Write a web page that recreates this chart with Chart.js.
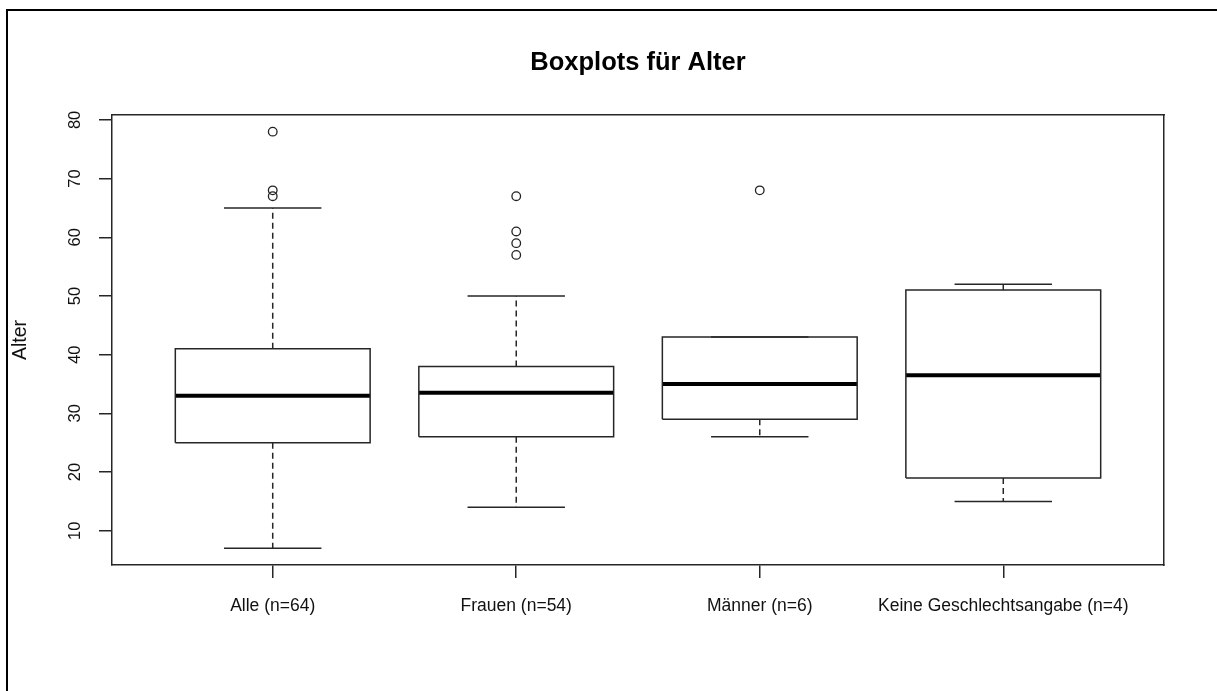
<!DOCTYPE html>
<html>
<head>
<meta charset="utf-8">
<script src="https://cdn.jsdelivr.net/npm/chart.js@4.4.0/dist/chart.umd.min.js"></script>
<style>
  html, body { margin: 0; padding: 0; background: #fff; }
  body { position: relative; width: 1217px; height: 691px; overflow: hidden; }
  #frame { position: absolute; left: 6px; top: 9px; width: 1400px; height: 900px;
           border-left: 2px solid #000; border-top: 2px solid #000; }
  #wrap { position: absolute; left: 0; top: 0; width: 1217px; height: 691px; }
</style>
</head>
<body>
<div id="frame"></div>
<div id="wrap"><canvas id="chart"></canvas></div>
<script>
const categories = ['Alle (n=64)', 'Frauen (n=54)', 'Männer (n=6)', 'Keine Geschlechtsangabe (n=4)'];
const lowerWhisker = [7, 14, 26, 15];
const lowerHinge = [25, 26, 29, 19];
const medians = [33, 33.5, 35, 36.5];
const upperHinge = [41, 38, 43, 51];
const upperWhisker = [65, 50, 43, 52];
const outliers = [[67, 68, 78], [57, 59, 61, 67], [68], []];
const yTicks = [10, 20, 30, 40, 50, 60, 70, 80];

const FONT = "'Liberation Sans', Arial, sans-serif";
const LINE = '#262626';
const LW = 1.5;
const BOX_HALF = 0.4;   // boxwex 0.8
const CAP_HALF = 0.2;   // staplewex 0.5

Chart.defaults.font.family = FONT;

const datasets = [];
const seg = (pts, extra) => datasets.push(Object.assign({
    data: pts, showLine: true, borderColor: LINE, borderWidth: LW,
    pointRadius: 0, pointHoverRadius: 0, fill: false
}, extra));

categories.forEach((cat, i) => {
    const c = i + 1;
    // whiskers (dashed) and staples
    seg([{ x: c, y: upperHinge[i] }, { x: c, y: upperWhisker[i] }], { borderDash: [6, 4] });
    seg([{ x: c, y: lowerHinge[i] }, { x: c, y: lowerWhisker[i] }], { borderDash: [6, 4] });
    seg([{ x: c - CAP_HALF, y: upperWhisker[i] }, { x: c + CAP_HALF, y: upperWhisker[i] }]);
    seg([{ x: c - CAP_HALF, y: lowerWhisker[i] }, { x: c + CAP_HALF, y: lowerWhisker[i] }]);
    // box
    seg([
        { x: c - BOX_HALF, y: lowerHinge[i] }, { x: c + BOX_HALF, y: lowerHinge[i] },
        { x: c + BOX_HALF, y: upperHinge[i] }, { x: c - BOX_HALF, y: upperHinge[i] },
        { x: c - BOX_HALF, y: lowerHinge[i] }
    ], { backgroundColor: '#fff', fill: true });
});
// medians on top of boxes
categories.forEach((cat, i) => {
    const c = i + 1;
    seg([{ x: c - BOX_HALF, y: medians[i] }, { x: c + BOX_HALF, y: medians[i] }],
        { borderColor: '#000', borderWidth: 4, borderCapStyle: 'butt' });
});
// outliers
datasets.push({
    data: outliers.flatMap((vals, i) => vals.map(v => ({ x: i + 1, y: v }))),
    pointStyle: 'circle', pointRadius: 4.3, pointHoverRadius: 4.3,
    borderColor: '#222', borderWidth: 1.3, backgroundColor: 'rgba(0,0,0,0)'
});

new Chart(document.getElementById('chart'), {
    type: 'scatter',
    data: { datasets },
    options: {
        responsive: true,
        maintainAspectRatio: false,
        animation: false,
        devicePixelRatio: 1,
        layout: { padding: 0 },
        plugins: {
            legend: { display: false },
            tooltip: { enabled: false },
            title: {
                display: true,
                text: 'Boxplots für Alter',
                fullSize: false,
                color: '#000',
                font: { size: 25.5, weight: 'bold' },
                padding: { top: 48, bottom: 36.4 }
            }
        },
        scales: {
            x: {
                type: 'linear',
                position: 'bottom',
                min: 0.34,
                max: 4.66,
                afterBuildTicks: s => { s.ticks = categories.map((_, i) => ({ value: i + 1 })); },
                afterFit: s => { s.height = 126; },
                ticks: {
                    autoSkip: false, maxRotation: 0, minRotation: 0, padding: 18,
                    color: '#111', font: { size: 17.5 },
                    callback: v => categories[v - 1] || ''
                },
                grid: { drawOnChartArea: false, drawTicks: true, tickLength: 13, color: LINE, lineWidth: LW },
                border: { display: true, color: LINE, width: LW }
            },
            y: {
                type: 'linear',
                position: 'left',
                min: 4.16,
                max: 80.84,
                afterBuildTicks: s => { s.ticks = yTicks.map(v => ({ value: v })); },
                afterFit: s => { s.width = 112; },
                ticks: {
                    minRotation: 90, maxRotation: 90, crossAlign: 'center', padding: 14.5,
                    color: '#111', font: { size: 16.5 }
                },
                grid: { drawOnChartArea: false, drawTicks: true, tickLength: 13, color: LINE, lineWidth: LW },
                border: { display: true, color: LINE, width: LW },
                title: {
                    display: true, text: 'Alter', color: '#111',
                    font: { size: 19.5 }, padding: { top: 9.3, bottom: 0 }
                }
            },
            x2: {
                type: 'linear', position: 'top', min: 0, max: 1,
                ticks: { display: false }, grid: { display: false },
                border: { display: true, color: LINE, width: LW },
                afterFit: s => { s.height = 0; }
            },
            y2: {
                type: 'linear', position: 'right', min: 0, max: 1,
                ticks: { display: false }, grid: { display: false },
                border: { display: true, color: LINE, width: LW },
                afterFit: s => { s.width = 53; }
            }
        }
    }
});
</script>
</body>
</html>
